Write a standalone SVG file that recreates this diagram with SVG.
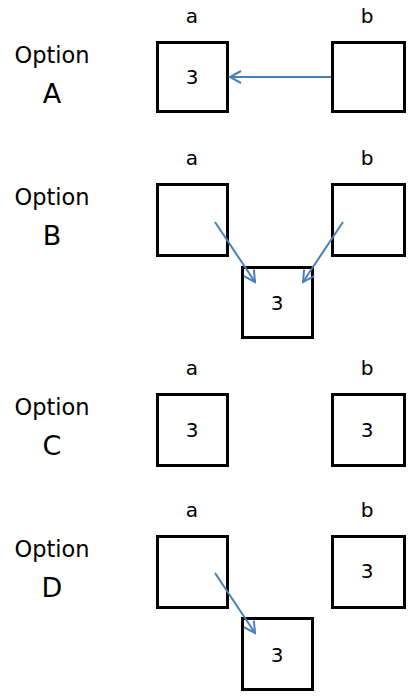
<svg xmlns="http://www.w3.org/2000/svg" width="419" height="698" viewBox="0 0 419 698">
<style>
.box{fill:#fff;stroke:#000;stroke-width:3}
.lbl{font-family:"DejaVu Sans",sans-serif;font-size:20px;fill:#000;text-anchor:middle}
.opt{font-family:"DejaVu Sans",sans-serif;font-size:22.5px;fill:#000;text-anchor:middle}
.big{font-family:"DejaVu Sans",sans-serif;font-size:27px;fill:#000;text-anchor:middle}
.num{font-family:"DejaVu Sans",sans-serif;font-size:20px;fill:#000;text-anchor:middle}
.conn{stroke:#4a7ebb;stroke-width:2;fill:none;marker-end:url(#ah)}
</style>
<defs>
<marker id="ah" markerUnits="userSpaceOnUse" markerWidth="14" markerHeight="14" refX="12" refY="7" orient="auto">
<path d="M1,1 L12,7 L1,13" fill="none" stroke="#4a7ebb" stroke-width="2"/>
</marker>
</defs>
<rect width="419" height="698" fill="#fff"/>
<g id="optionA">
<text class="opt" x="52" y="63">Option</text>
<text class="big" x="52" y="103">A</text>
<text class="lbl" x="192" y="23">a</text>
<text class="lbl" x="367" y="23">b</text>
</g>
<g id="A_a"><rect class="box" x="157.5" y="42.5" width="70" height="69"/><text class="num" x="192" y="84">3</text></g>
<g id="A_b"><rect class="box" x="332.5" y="42.5" width="72" height="69"/></g>
<g id="optionB">
<text class="opt" x="52" y="205">Option</text>
<text class="big" x="52" y="245">B</text>
<text class="lbl" x="192" y="165">a</text>
<text class="lbl" x="367" y="165">b</text>
</g>
<g id="B_a"><rect class="box" x="157.5" y="184.5" width="70" height="71"/></g>
<g id="B_b"><rect class="box" x="332.5" y="184.5" width="72" height="71"/></g>
<g id="B_c"><rect class="box" x="242.5" y="267.5" width="70" height="70"/><text class="num" x="277" y="310">3</text></g>
<g id="optionC">
<text class="opt" x="52" y="415">Option</text>
<text class="big" x="52" y="455">C</text>
<text class="lbl" x="192" y="375">a</text>
<text class="lbl" x="367" y="375">b</text>
</g>
<g id="C_a"><rect class="box" x="157.5" y="394.5" width="70" height="71"/><text class="num" x="192" y="437">3</text></g>
<g id="C_b"><rect class="box" x="332.5" y="394.5" width="72" height="71"/><text class="num" x="367" y="437">3</text></g>
<g id="optionD">
<text class="opt" x="52" y="557">Option</text>
<text class="big" x="52" y="597">D</text>
<text class="lbl" x="192" y="517">a</text>
<text class="lbl" x="367" y="517">b</text>
</g>
<g id="D_a"><rect class="box" x="157.5" y="536.5" width="70" height="71"/></g>
<g id="D_b"><rect class="box" x="332.5" y="536.5" width="72" height="71"/><text class="num" x="367" y="578">3</text></g>
<g id="D_c"><rect class="box" x="242.5" y="618.5" width="70" height="71"/><text class="num" x="277" y="662">3</text></g>
<g id="connectors">
<line class="conn" x1="331" y1="77" x2="230" y2="77"/>
<line class="conn" x1="215" y1="222" x2="255" y2="282"/>
<line class="conn" x1="343" y1="222" x2="303" y2="282"/>
<line class="conn" x1="215" y1="573" x2="255" y2="633"/>
</g>
</svg>
